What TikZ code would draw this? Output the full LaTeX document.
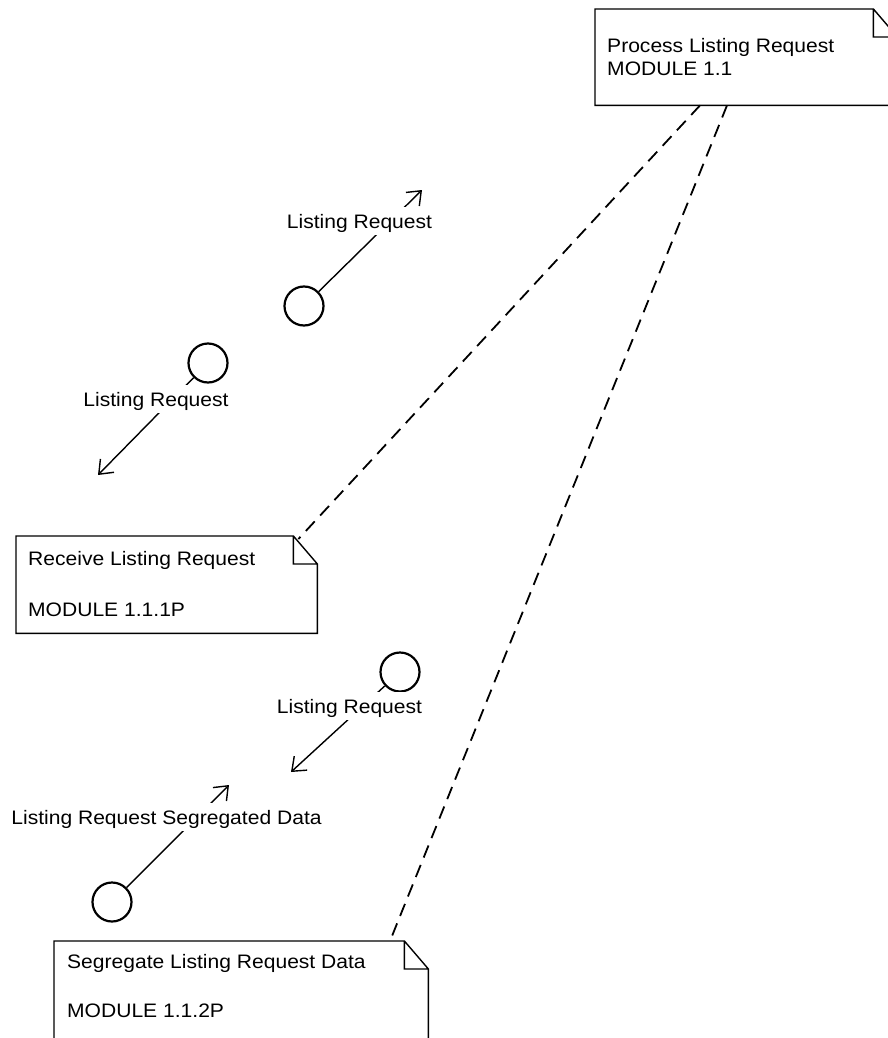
\documentclass[tikz,border=0pt]{standalone}
\usepackage{fontspec}
\setmainfont[FakeStretch=1.08]{Liberation Sans}
\usetikzlibrary{arrows.meta,calc}
\newlength\foldw \setlength\foldw{24pt}
\newlength\foldh \setlength\foldh{28pt}
% outline of a note with a folded top-right corner, drawn round a named node
\newcommand\drawnote[1]{%
  \draw[noteline] (#1.north west) -- ([xshift=-\foldw]#1.north east)
    -- ([yshift=-\foldh]#1.north east) -- (#1.south east) -- (#1.south west) -- cycle
    ([xshift=-\foldw]#1.north east) |- ([yshift=-\foldh]#1.north east);}
\begin{document}
\begin{tikzpicture}[x=1pt,y=-1pt,
  lbl/.style={font=\fontsize{19.5}{23}\selectfont, inner sep=0pt},
  notebox/.style={rectangle, draw=none, inner sep=0pt, anchor=north west},
  notetext/.style={lbl, anchor=base west},
  noteline/.style={draw=black, line width=1.4pt, line join=miter},
  anchorline/.style={line width=1.8pt, dash pattern=on 13pt off 8pt},
  msg/.style={line width=1.4pt, -{Straight Barb[length=12pt,width=19pt]}},
  obj/.style={circle, draw, line width=2.2pt, minimum size=39pt, inner sep=0pt},
  msglabel/.style={lbl, fill=white, text height=21pt, text depth=7pt, inner xsep=2pt, anchor=base}]
\useasboundingbox (0,0) rectangle (888,1038);
\clip (0,0) rectangle (888,1038);

% notes
\node[notebox, minimum width=302pt, minimum height=96pt] (pm) at (595,9) {};
\node[notebox, minimum width=301pt, minimum height=97pt] (recv) at (16,536) {};
\node[notebox, minimum width=374pt, minimum height=110pt] (seg) at (54,941) {};
\drawnote{pm}
\drawnote{recv}
\drawnote{seg}

\node[notetext] (pmA) at (607,53) {Process Listing Request};
\node[notetext] (pmB) at (607,76) {MODULE 1.1};
\node[notetext] (recvA) at (28,565) {Receive Listing Request};
\node[notetext] (recvB) at (28,616) {MODULE 1.1.1P};
\node[notetext] (segA) at (67,968) {Segregate Listing Request Data};
\node[notetext] (segB) at (67,1017) {MODULE 1.1.2P};

% anchor lines from the module note to its parts
\draw[anchorline] ($(pm.south west)+(105,0)$) -- ($(recv.north east)+(-19,3)$);
\draw[anchorline] ($(pm.south west)+(132,0)$) -- ($(seg.north west)+(336,0)$);

% objects
\node[obj] (o1) at (304,306) {};
\node[obj] (o2) at (208,363) {};
\node[obj] (o3) at (400,672) {};
\node[obj] (o4) at (112,902) {};

% message ends
\coordinate (t1) at (422,190);
\coordinate (t2) at (98,475);
\coordinate (t3) at (291,772);
\coordinate (t4) at (229,785);

\draw[msg] (o1) -- (t1);
\draw[msg] (o2) -- (t2);
\draw[msg] (o3) -- (t3);
\draw[msg] (o4) -- (t4);

% message labels
\node[msglabel] (m1) at (359.5,228) {Listing Request};
\node[msglabel] (m2) at (156,406) {Listing Request};
\node[msglabel] (m3) at (349.5,713) {Listing Request};
\node[msglabel] (m4) at (166.5,824) {Listing Request Segregated Data};
\end{tikzpicture}
\end{document}
